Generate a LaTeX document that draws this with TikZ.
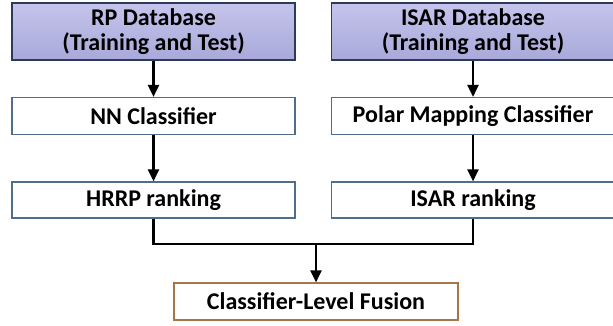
\documentclass[tikz,border=0pt]{standalone}
\usepackage{fontspec}
\setmainfont{Carlito}
\usetikzlibrary{arrows.meta,positioning}
\definecolor{Navy}{HTML}{2E3A5C}
\definecolor{Steel}{HTML}{4F6E8E}
\definecolor{Copper}{HTML}{A8744A}
\definecolor{LavTop}{HTML}{C4C4EC}
\definecolor{LavBot}{HTML}{A9A9DA}
\tikzset{
  dbbox/.style={draw=Navy, line width=1.3pt, top color=LavTop, bottom color=LavBot, align=center, inner sep=2pt, minimum width=283pt, minimum height=57pt, font=\bfseries\fontsize{24}{25}\selectfont},
  stagebox/.style={draw=Steel, line width=1.1pt, fill=white, align=center, inner sep=2pt, minimum width=283pt, minimum height=37pt, font=\bfseries\fontsize{24}{25}\selectfont},
  fusionbox/.style={stagebox, draw=Copper},
  arrow/.style={-{Triangle[length=12pt, width=11pt]}, line width=2.5pt},
  joinline/.style={line width=2.5pt}
}
\begin{document}
\begin{tikzpicture}[x=1pt, y=-1pt]
  \useasboundingbox (0,0) rectangle (613,326);
  \node[dbbox] (rpdb) at (153.5,31.5) {RP Database\\(Training and Test)};
  \node[dbbox] (isardb) at (473,31.5) {ISAR Database\\(Training and Test)};

  \node[stagebox] (nn) at (153.5,116) {NN Classifier};
  \node[stagebox] (polar) at (473,116) {Polar Mapping Classifier};

  \node[stagebox, minimum height=36pt] (hrrp) at (153.5,200) {HRRP ranking};
  \node[stagebox, minimum height=36pt] (isarrank) at (473,200) {ISAR ranking};

  \node[fusionbox, minimum width=284pt] (fusion) at (316,301.5) {Classifier-Level Fusion};
  \coordinate (merge) at (316,244);

  \draw[arrow] (rpdb) -- (nn);
  \draw[arrow] (isardb) -- (polar);
  \draw[arrow] (nn) -- (hrrp);
  \draw[arrow] (polar) -- (isarrank);
  \draw[joinline] (hrrp.south) -- (hrrp.south |- merge) -| (isarrank.south);
  \draw[arrow] (merge) -- (fusion);
\end{tikzpicture}
\end{document}
